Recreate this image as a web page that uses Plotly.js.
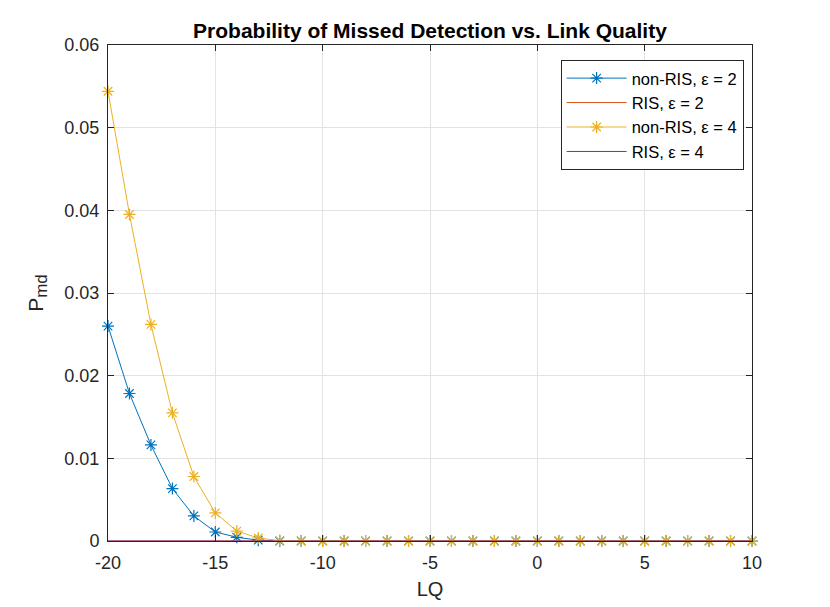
<!DOCTYPE html>
<html><head><meta charset="utf-8">
<script src="https://cdn.plot.ly/plotly-3.0.1.min.js"></script>
<style>body{margin:0;background:#fff}#plot{width:830px;height:607px}</style>
</head><body><div id="plot"></div>
<script>
const lq = [-20, -19, -18, -17, -16, -15, -14, -13, -12, -11, -10, -9, -8, -7, -6, -5, -4, -3, -2, -1, 0, 1, 2, 3, 4, 5, 6, 7, 8, 9, 10];
const nonRIS2 = [0.0260, 0.01784, 0.01162, 0.00634, 0.00303, 0.00109, 0.00045, 0.0001, 0, 0, 0, 0, 0, 0, 0, 0, 0, 0, 0, 0, 0, 0, 0, 0, 0, 0, 0, 0, 0, 0, 0];
const RIS2 = [0, 0, 0, 0, 0, 0, 0, 0, 0, 0, 0, 0, 0, 0, 0, 0, 0, 0, 0, 0, 0, 0, 0, 0, 0, 0, 0, 0, 0, 0, 0];
const nonRIS4 = [0.0544, 0.0395, 0.0262, 0.0155, 0.0078, 0.0034, 0.0012, 0.00036, 0.00005, 0, 0, 0, 0, 0, 0, 0, 0, 0, 0, 0, 0, 0, 0, 0, 0, 0, 0, 0, 0, 0, 0];
const RIS4 = [0, 0, 0, 0, 0, 0, 0, 0, 0, 0, 0, 0, 0, 0, 0, 0, 0, 0, 0, 0, 0, 0, 0, 0, 0, 0, 0, 0, 0, 0, 0];
const names = ['non-RIS, ε = 2', 'RIS, ε = 2', 'non-RIS, ε = 4', 'RIS, ε = 4'];
const xTicks = [-20, -15, -10, -5, 0, 5, 10];
const xTickText = ['-20', '-15', '-10', '-5', '0', '5', '10'];
const yTicks = [0, 0.01, 0.02, 0.03, 0.04, 0.05, 0.06];
const yTickText = ['0', '0.01', '0.02', '0.03', '0.04', '0.05', '0.06'];

const colors = ['#0072BD', '#D95319', '#EDB120', '#7E2F8E'];
const series = [nonRIS2, RIS2, nonRIS4, RIS4];
const hasMarker = [true, false, true, false];
const FONT = 'Liberation Sans, Arial, Helvetica, sans-serif';

const traces = series.map((s, i) => ({
  x: lq, y: s, name: names[i], type: 'scatter',
  mode: hasMarker[i] ? 'lines+markers' : 'lines',
  line: {color: colors[i], width: 1},
  marker: {symbol: 'asterisk-open', size: 10, color: colors[i], line: {color: colors[i], width: 1.2}},
  cliponaxis: false
}));

const axisCommon = {
  showline: true, mirror: 'ticks', linecolor: '#262626', linewidth: 1,
  ticks: 'inside', ticklen: 6, tickcolor: '#262626',
  showgrid: true, gridcolor: '#e3e3e3', gridwidth: 1, zeroline: false,
  tickfont: {family: FONT, size: 18, color: '#262626'}
};

const layout = {
  width: 830, height: 607,
  margin: {l: 108, r: 78, t: 45, b: 66},
  paper_bgcolor: '#fff', plot_bgcolor: '#fff',
  font: {family: FONT, color: '#262626'},
  title: {text: '<b>Probability of Missed Detection vs. Link Quality</b>', x: 0.5, xref: 'paper',
    y: 1 - 31/607, yref: 'container', yanchor: 'middle',
    font: {family: FONT, size: 21, color: '#000'}},
  xaxis: Object.assign({}, axisCommon, {range: [-20, 10], tickvals: xTicks, ticktext: xTickText, ticklabelstandoff: 5,
    title: {text: 'LQ', font: {family: FONT, size: 20, color: '#262626'}, standoff: 10}}),
  yaxis: Object.assign({}, axisCommon, {range: [0, 0.06], tickvals: yTicks, ticktext: yTickText, ticklabelstandoff: 4,
    title: {text: 'P<sub><span style="font-size:17px">md</span></sub>', font: {family: FONT, size: 21, color: '#262626'}, standoff: 15}}),
  legend: {x: 0.987, xanchor: 'right', y: 0.97, yanchor: 'top', bgcolor: '#fff',
    bordercolor: '#262626', borderwidth: 1, tracegroupgap: 0, itemwidth: 60,
    font: {family: FONT, size: 16.5, color: '#000'}},
  showlegend: true
};

Plotly.newPlot('plot', traces, layout, {displayModeBar: false, staticPlot: true});
</script>
</body></html>
